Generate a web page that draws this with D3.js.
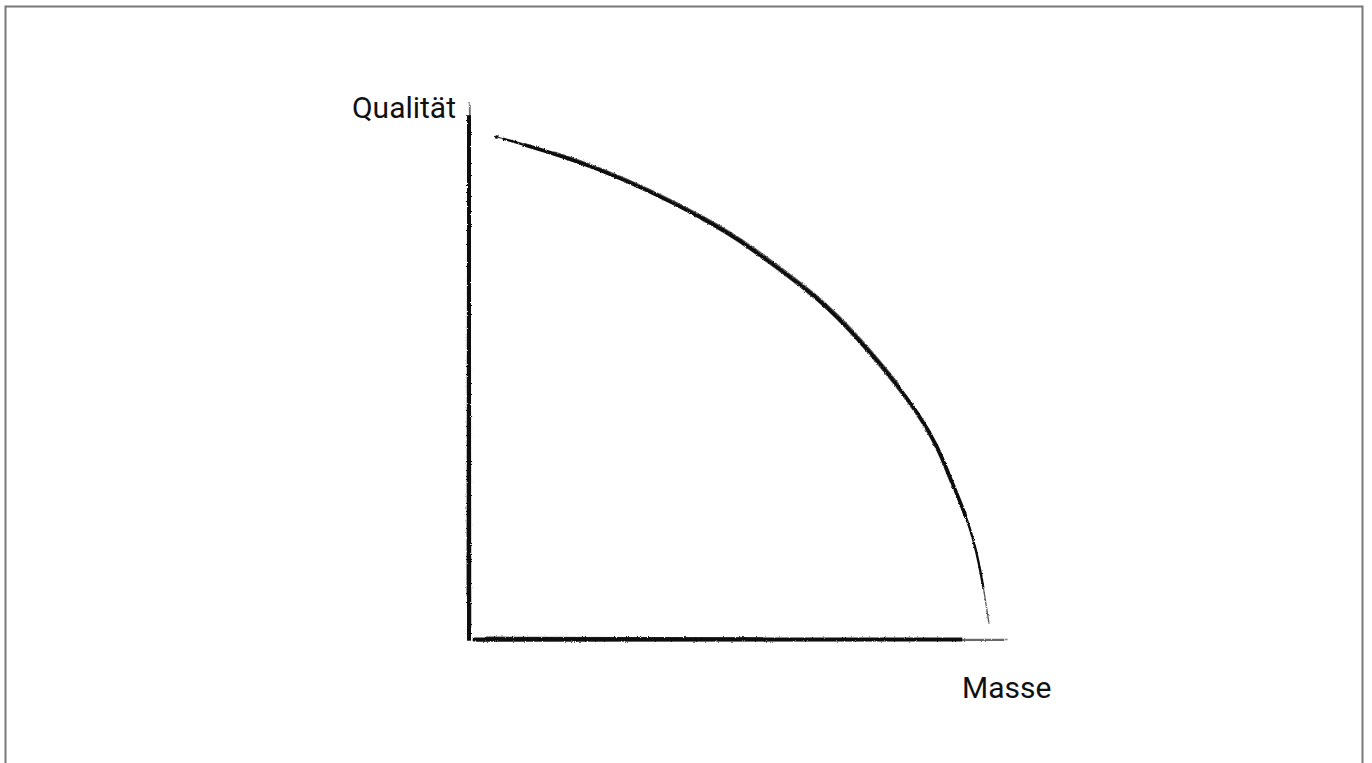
<!DOCTYPE html>
<html>
<head>
<meta charset="utf-8">
<script src="https://cdn.jsdelivr.net/npm/d3@7"></script>
<style>
body { margin:0; background:#fff; }
.label { font-family: Roboto, "Noto Sans", sans-serif; font-size:30px; fill:#111; }
</style>
</head>
<body>
<div class="chart-container"></div>
<script>
// curve (Masse -> Qualität), both 0..100
var masse     = [5.0, 24.3, 43.0, 52.9, 61.7, 71.0, 83.6, 89.7, 93.5, 95.7, 97.0];
var qualitaet = [94.9, 88.6, 79.7, 73.5, 66.9, 58.3, 42.6, 30.5, 20.5, 11.0, 2.8];
var axisTitles = ['Qualität', 'Masse'];

var width = 1372, height = 763;
var plot = {left:470, right:1005, top:110, bottom:638};

var svg = d3.select('.chart-container').append('svg')
	.attr('width', width)
	.attr('height', height);

// frame
svg.append('rect')
	.attr('x', 5.5).attr('y', 6.5)
	.attr('width', 1357).attr('height', 780)
	.attr('fill', 'none')
	.attr('stroke', '#777')
	.attr('stroke-width', 2);

var defs = svg.append('defs');
var brush = defs.append('filter').attr('id', 'brush')
	.attr('x', '-5%').attr('y', '-5%').attr('width', '110%').attr('height', '110%');
brush.append('feTurbulence')
	.attr('type', 'fractalNoise')
	.attr('baseFrequency', '0.9 0.9')
	.attr('numOctaves', 2)
	.attr('seed', 4)
	.attr('result', 'noise');
brush.append('feDisplacementMap')
	.attr('in', 'SourceGraphic')
	.attr('in2', 'noise')
	.attr('scale', 2.5)
	.attr('xChannelSelector', 'R')
	.attr('yChannelSelector', 'G');

var x = d3.scaleLinear().domain([0, 100]).range([plot.left, plot.right]);
var y = d3.scaleLinear().domain([0, 100]).range([plot.bottom, plot.top]);

var g = svg.append('g').attr('filter', 'url(#brush)');

// hand drawn axes: several strokes on top of each other
var yAxisStrokes = [
	{dx:0, y0:-0.5, y1:99, w:4, o:1},
	{dx:-1.5, y0:8, y1:96, w:2, o:0.85},
	{dx:1.8, y0:2, y1:101, w:1.2, o:0.6},
	{dx:0.5, y0:95, y1:101.5, w:1, o:0.5}
];
g.selectAll('.yaxis')
	.data(yAxisStrokes)
	.enter().append('line')
	.attr('class', 'yaxis')
	.attr('x1', function(d){ return x(0) - 1 + d.dx; })
	.attr('x2', function(d){ return x(0) - 1 + d.dx * 0.6; })
	.attr('y1', function(d){ return y(d.y0); })
	.attr('y2', function(d){ return y(d.y1); })
	.attr('stroke', '#111')
	.attr('stroke-width', function(d){ return d.w; })
	.attr('stroke-opacity', function(d){ return d.o; });

var xAxisStrokes = [
	{dy:0, x0:0.5, x1:92, w:3.8, o:1},
	{dy:-1.5, x0:3, x1:55, w:2.8, o:0.9},
	{dy:1.5, x0:1, x1:100, w:1.4, o:0.6},
	{dy:0, x0:90, x1:100.5, w:1.5, o:0.5}
];
g.selectAll('.xaxis')
	.data(xAxisStrokes)
	.enter().append('line')
	.attr('class', 'xaxis')
	.attr('x1', function(d){ return x(d.x0); })
	.attr('x2', function(d){ return x(d.x1); })
	.attr('y1', function(d){ return y(0) + 1.5 + d.dy; })
	.attr('y2', function(d){ return y(0) + 1.5 + d.dy * 0.5; })
	.attr('stroke', '#111')
	.attr('stroke-width', function(d){ return d.w; })
	.attr('stroke-opacity', function(d){ return d.o; });

var data = masse.map(function(m, i){ return {m:m, q:qualitaet[i]}; });

var line = d3.line()
	.x(function(d){ return x(d.m); })
	.y(function(d){ return y(d.q); })
	.curve(d3.curveNatural);

// full path, then dash patterns pick out the thicker middle part
var fullPath = line(data);
var tmp = svg.append('path').attr('d', fullPath).attr('visibility', 'hidden');
var L = tmp.node().getTotalLength();
tmp.remove();

var curveStrokes = [
	{a:0, b:1, w:1.3, o:0.7, off:0},
	{a:0.01, b:0.95, w:2.4, o:1, off:0},
	{a:0.04, b:0.85, w:3.6, o:1, off:0},
	{a:0.08, b:0.65, w:1.3, o:0.7, off:1.6},
	{a:0.3, b:0.8, w:1, o:0.6, off:-1.4}
];
g.selectAll('.curve')
	.data(curveStrokes)
	.enter().append('path')
	.attr('class', 'curve')
	.attr('d', fullPath)
	.attr('stroke-dasharray', function(d){ return '0,' + (d.a * L) + ',' + ((d.b - d.a) * L) + ',' + L; })
	.attr('transform', function(d){ return 'translate(' + d.off + ',' + (-d.off) + ')'; })
	.attr('fill', 'none')
	.attr('stroke', '#111')
	.attr('stroke-linecap', 'round')
	.attr('stroke-width', function(d){ return d.w; })
	.attr('stroke-opacity', function(d){ return d.o; });

svg.append('text')
	.attr('class', 'label')
	.attr('x', plot.left - 14)
	.attr('y', 118)
	.style('text-anchor', 'end')
	.text(axisTitles[0]);

svg.append('text')
	.attr('class', 'label')
	.attr('x', 962)
	.attr('y', 698)
	.text(axisTitles[1]);
</script>
</body>
</html>
